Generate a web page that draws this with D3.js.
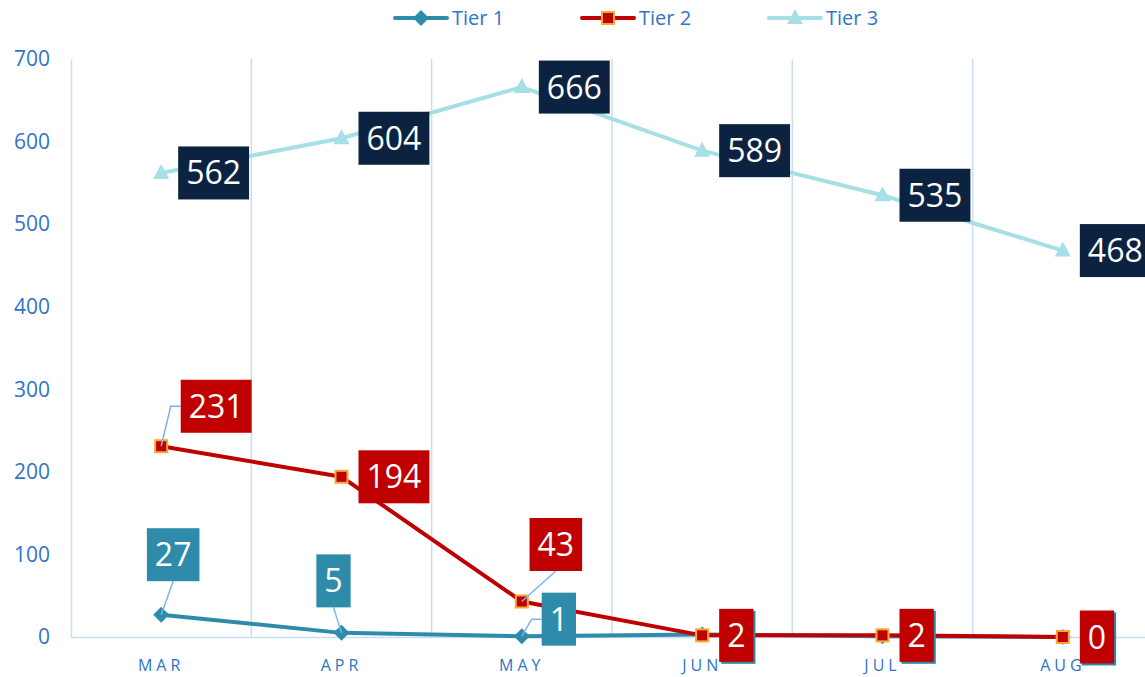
<!DOCTYPE html>
<html>
<head>
<meta charset="utf-8">
<script src="https://cdn.jsdelivr.net/npm/d3@7"></script>
<style>
  body { margin: 0; background: #fff; }
  svg { display: block; font-family: "Open Sans", sans-serif; }
</style>
</head>
<body>
<div class="chart"></div>
<script>
// values
const months = ["MAR", "APR", "MAY", "JUN", "JUL", "AUG"];
const seriesNames = ["Tier 1", "Tier 2", "Tier 3"];
const tier1 = [27, 5, 1, 3, 1, 0];
const tier2 = [231, 194, 43, 2, 2, 0];
const tier3 = [562, 604, 666, 589, 535, 468];
const yTicks = [0, 100, 200, 300, 400, 500, 600, 700];

// where each data label sits (box centre offset from its point); "r" = to the right,
// "h" = to the right but hidden under the Tier 2 label
const labelOffsets = [
    [[12, -60], [-8, -52], [37, -17], "h", "h", "h"],
    [[55, -40], "r", [34, -57], "r", "r", "r"],
    ["r", "r", "r", "r", "r", "r"]
];

function init(){

    const width = 1145;
    const height = 677;
    const blue = "#2F75C6";
    const grid = "#C9DDF4";

    const series = [
        {name: seriesNames[0], values: tier1, color: "#2E8CAA", box: "#2E8CAA", marker: "diamond"},
        {name: seriesNames[1], values: tier2, color: "#C00000", box: "#C00000", marker: "square"},
        {name: seriesNames[2], values: tier3, color: "#A6DFE6", box: "#0B2340", marker: "triangle"}
    ];

    let x = d3.scaleBand().domain(months).range([71, 1153]);
    let y = d3.scaleLinear().domain([0, 700]).range([637, 59]);
    let cx = (d) => x(d) + x.bandwidth() / 2;

    let svg = d3.select(".chart")
    .append("svg")
        .attr("width", width)
        .attr("height", height)
        .attr("viewBox", [0, 0, width, height]);

    // vertical grid at band edges
    svg.append("g")
        .selectAll("line")
        .data(months.slice(1))
        .enter()
        .append("line")
        .attr("x1", (d) => x(d)).attr("x2", (d) => x(d))
        .attr("y1", y(700)).attr("y2", y(0))
        .attr("stroke", grid).attr("stroke-width", 1.5);

    // y axis
    let yAxis = svg.append("g")
        .attr("transform", "translate(71,0)")
        .call(d3.axisLeft(y).tickValues(yTicks).tickSize(0).tickPadding(21));
    yAxis.select(".domain").attr("stroke", grid).attr("stroke-width", 1.5);
    yAxis.selectAll("text")
        .attr("fill", blue)
        .style("font-size", "21px")
        .style("font-family", "Open Sans");

    // x axis
    let xAxis = svg.append("g")
        .attr("transform", "translate(0," + y(0) + ")")
        .call(d3.axisBottom(x).tickSize(0).tickPadding(23));
    xAxis.select(".domain").attr("stroke", grid).attr("stroke-width", 1.5);
    xAxis.selectAll("text")
        .attr("fill", blue)
        .style("font-size", "16px")
        .style("letter-spacing", "4px")
        .style("font-family", "Open Sans");

    let line = d3.line()
        .x((d, i) => cx(months[i]))
        .y((d) => y(d));

    svg.append("g")
        .selectAll("path")
        .data(series)
        .enter()
        .append("path")
        .attr("d", (s) => line(s.values))
        .attr("fill", "none")
        .attr("stroke", (s) => s.color)
        .attr("stroke-width", 4)
        .attr("stroke-linejoin", "round");

    function drawMarker(sel, type, color){
        if (type === "diamond") {
            sel.append("path").attr("d", "M0,-8L8,0L0,8L-8,0Z").attr("fill", color);
        } else if (type === "square") {
            sel.append("rect").attr("x", -6).attr("y", -6).attr("width", 12).attr("height", 12)
                .attr("fill", "#C00000").attr("stroke", "#F6A832").attr("stroke-width", 2);
        } else {
            sel.append("path").attr("d", "M0,-9L8,6L-8,6Z").attr("fill", color);
        }
    }

    series.forEach((s) => {
        s.values.forEach((v, i) => {
            let g = svg.append("g").attr("transform", "translate(" + cx(months[i]) + "," + y(v) + ")");
            drawMarker(g, s.marker, s.color);
        });
    });

    // data labels
    const boxH = 53;
    const pad = 8;
    series.forEach((s, si) => {
        s.values.forEach((v, i) => {
            let px = cx(months[i]);
            let py = y(v);
            let off = labelOffsets[si][i];
            let g = svg.append("g").attr("class", "lbl");
            let t = g.append("text")
                .text(v)
                .attr("fill", "#fff")
                .attr("text-anchor", "middle")
                .attr("dy", ".36em")
                .style("font-size", "32px");
            let w = t.node().getComputedTextLength() + pad * 2;
            let bx, by;
            if (off === "r") {
                bx = px + 17 + w / 2;
                by = py;
            } else if (off === "h") {
                bx = px + 19 + w / 2;
                by = y(tier2[i]) + 2;
                t.remove();
            } else {
                bx = px + off[0];
                by = py + off[1];
            }
            let left = bx - w / 2, top = by - boxH / 2;
            // leader line if the box is away from the point
            if (Array.isArray(off)) {
                let pts;
                if (top + boxH < py - 20) {
                    pts = [[px, py], [bx, top + boxH]];
                } else {
                    pts = [[px, py], [left - 10, by], [left, by]];
                }
                svg.insert("path", "g.lbl")
                    .attr("d", d3.line()(pts))
                    .attr("fill", "none")
                    .attr("stroke", "#7DB3EA")
                    .attr("stroke-width", 1.5);
            }
            g.insert("rect", ":first-child")
                .attr("x", left).attr("y", top)
                .attr("width", w).attr("height", boxH)
                .attr("fill", s.box);
            t.attr("x", bx).attr("y", by);
        });
    });

    // legend
    let legend = svg.append("g")
        .selectAll("g")
        .data(series)
        .enter()
        .append("g")
        .attr("transform", (s, i) => "translate(" + (395 + i * 187) + ",18)");
    legend.append("line")
        .attr("x1", 0).attr("x2", 52)
        .attr("stroke", (s) => s.color)
        .attr("stroke-width", 4)
        .attr("stroke-linecap", "round");
    legend.each(function(s){
        let g = d3.select(this).append("g").attr("transform", "translate(26,0)");
        drawMarker(g, s.marker, s.color);
    });
    legend.append("text")
        .attr("x", 57)
        .attr("dy", ".35em")
        .attr("fill", blue)
        .style("font-size", "20px")
        .text((s) => s.name);
}

init();
</script>
</body>
</html>
